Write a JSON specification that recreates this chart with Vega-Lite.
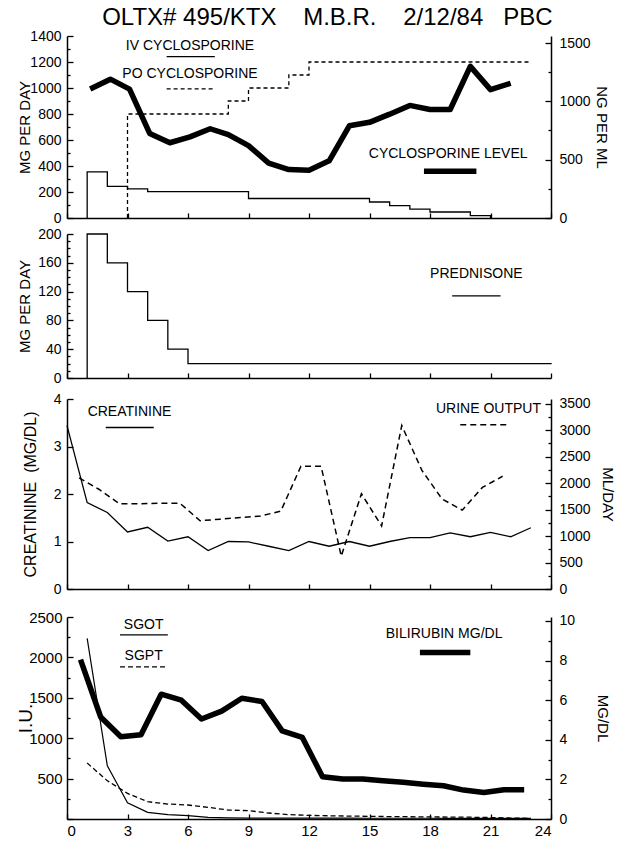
{
 "$schema": "https://vega.github.io/schema/vega-lite/v6.json",
 "padding": {"left": 16, "top": 6, "right": 5, "bottom": 3},
 "title": {"text": "OLTX#\u00a0495/KTX\u00a0\u00a0\u00a0\u00a0M.B.R.\u00a0\u00a0\u00a0\u00a02/12/84\u00a0\u00a0\u00a0PBC", "fontSize": 24, "font": "Liberation Sans", "fontWeight": "normal", "color": "#000", "anchor": "middle", "offset": -1, "dx": 12},
 "spacing": 0,
 "datasets": {
  "iv": [{"seq":1,"day":1,"mg":0},{"seq":2,"day":1,"mg":355},{"seq":3,"day":2,"mg":244},{"seq":4,"day":3,"mg":224},{"seq":5,"day":4,"mg":203},{"seq":6,"day":9,"mg":150},{"seq":7,"day":15,"mg":123},{"seq":8,"day":16,"mg":95},{"seq":9,"day":17,"mg":69},{"seq":10,"day":18,"mg":46},{"seq":11,"day":20,"mg":18},{"seq":12,"day":21,"mg":0}],
  "po": [{"seq":1,"day":3,"mg":0},{"seq":2,"day":3,"mg":800},{"seq":3,"day":8,"mg":900},{"seq":4,"day":9,"mg":1000},{"seq":5,"day":11,"mg":1100},{"seq":6,"day":12,"mg":1200},{"seq":7,"day":23,"mg":1200}],
  "level": [{"day":1.15,"ng":1105},{"day":2.15,"ng":1190},{"day":3.1,"ng":1105},{"day":4.1,"ng":725},{"day":5.1,"ng":645},{"day":6.1,"ng":695},{"day":7.1,"ng":765},{"day":8.0,"ng":715},{"day":9.0,"ng":620},{"day":10.0,"ng":470},{"day":11.0,"ng":415},{"day":12.0,"ng":410},{"day":13.0,"ng":490},{"day":14.0,"ng":790},{"day":15.0,"ng":820},{"day":16.0,"ng":890},{"day":17.0,"ng":965},{"day":18.0,"ng":930},{"day":19.0,"ng":930},{"day":20.0,"ng":1300},{"day":21.0,"ng":1100},{"day":22.0,"ng":1155}],
  "pred": [{"seq":1,"day":1,"mg":0},{"seq":2,"day":1,"mg":200},{"seq":3,"day":2,"mg":160},{"seq":4,"day":3,"mg":120},{"seq":5,"day":4,"mg":80},{"seq":6,"day":5,"mg":40},{"seq":7,"day":6,"mg":20},{"seq":8,"day":24,"mg":19}],
  "creat": [{"day":0,"v":3.44},{"day":1,"v":1.82},{"day":2,"v":1.61},{"day":3,"v":1.2},{"day":4,"v":1.3},{"day":5,"v":1.01},{"day":6,"v":1.1},{"day":7,"v":0.81},{"day":8,"v":1.0},{"day":9,"v":0.99},{"day":10,"v":0.9},{"day":11,"v":0.81},{"day":12,"v":1.0},{"day":13,"v":0.9},{"day":14,"v":1.0},{"day":15,"v":0.9},{"day":16,"v":1.0},{"day":17,"v":1.08},{"day":18,"v":1.08},{"day":19,"v":1.18},{"day":20,"v":1.1},{"day":21,"v":1.19},{"day":22,"v":1.1},{"day":23,"v":1.29}],
  "urine": [{"day":0.6,"ml":2100},{"day":1.6,"ml":1880},{"day":2.6,"ml":1610},{"day":3.6,"ml":1610},{"day":4.6,"ml":1620},{"day":5.6,"ml":1620},{"day":6.6,"ml":1290},{"day":7.6,"ml":1320},{"day":8.6,"ml":1350},{"day":9.6,"ml":1380},{"day":10.6,"ml":1470},{"day":11.6,"ml":2320},{"day":12.6,"ml":2320},{"day":13.6,"ml":620},{"day":14.6,"ml":1800},{"day":15.6,"ml":1190},{"day":16.6,"ml":3090},{"day":17.6,"ml":2240},{"day":18.6,"ml":1700},{"day":19.6,"ml":1490},{"day":20.6,"ml":1920},{"day":21.6,"ml":2130}],
  "sgot": [{"day":1,"iu":2236},{"day":2,"iu":659},{"day":3,"iu":200},{"day":4,"iu":82},{"day":5,"iu":54},{"day":6,"iu":41},{"day":7,"iu":21},{"day":8,"iu":15},{"day":9,"iu":12},{"day":10,"iu":10},{"day":11,"iu":10},{"day":12,"iu":10},{"day":13,"iu":10},{"day":14,"iu":10},{"day":15,"iu":9},{"day":16,"iu":9},{"day":17,"iu":9},{"day":18,"iu":9},{"day":19,"iu":8},{"day":20,"iu":8},{"day":21,"iu":8},{"day":22,"iu":8},{"day":23,"iu":8}],
  "sgpt": [{"day":1,"iu":692},{"day":2,"iu":474},{"day":3,"iu":317},{"day":4,"iu":214},{"day":5,"iu":185},{"day":6,"iu":173},{"day":7,"iu":144},{"day":8,"iu":111},{"day":9,"iu":103},{"day":10,"iu":74},{"day":11,"iu":54},{"day":12,"iu":45},{"day":13,"iu":40},{"day":14,"iu":36},{"day":15,"iu":33},{"day":16,"iu":30},{"day":17,"iu":28},{"day":18,"iu":26},{"day":19,"iu":24},{"day":20,"iu":22},{"day":21,"iu":18},{"day":22,"iu":12},{"day":23,"iu":8}],
  "bili": [{"day":0.67,"v":8.05},{"day":1.67,"v":5.15},{"day":2.67,"v":4.15},{"day":3.67,"v":4.25},{"day":4.67,"v":6.3},{"day":5.67,"v":6.0},{"day":6.67,"v":5.05},{"day":7.67,"v":5.45},{"day":8.67,"v":6.1},{"day":9.67,"v":5.93},{"day":10.67,"v":4.45},{"day":11.67,"v":4.12},{"day":12.67,"v":2.13},{"day":13.67,"v":2.02},{"day":14.67,"v":2.02},{"day":15.67,"v":1.93},{"day":16.67,"v":1.85},{"day":17.67,"v":1.76},{"day":18.67,"v":1.68},{"day":19.67,"v":1.46},{"day":20.67,"v":1.34},{"day":21.67,"v":1.48},{"day":22.67,"v":1.48}]
 },
 "vconcat": [
  {
   "width": 484, "height": 182,
   "resolve": {"scale": {"y": "independent"}},
   "layer": [
    {"data": {"name": "iv"}, "mark": {"type": "line", "interpolate": "step-after", "strokeWidth": 1.3, "color": "#000"},
     "encoding": {
      "x": {"field": "day", "type": "quantitative", "scale": {"domain": [0, 24], "nice": false}, "axis": {"values": [0,3,6,9,12,15,18,21,24], "labels": false, "tickSize": -5, "title": "\u00a0", "titleFontSize": 8, "titlePadding": 0}},
      "y": {"field": "mg", "type": "quantitative", "scale": {"domain": [0, 1400], "nice": false}, "axis": {"orient": "left", "title": "MG PER DAY", "values": [0,100,200,300,400,500,600,700,800,900,1000,1100,1200,1300,1400], "format": "d", "labelExpr": "datum.value % 200 === 0 ? datum.label : ''", "tickSize": {"condition": {"test": "datum.value % 200 === 0", "value": -6}, "value": -3}, "labelPadding": 12, "titlePadding": -3}},
      "order": {"field": "seq", "type": "quantitative"}}},
    {"data": {"name": "po"}, "mark": {"type": "line", "interpolate": "step-after", "strokeWidth": 1.3, "strokeDash": [4, 3], "color": "#000"},
     "encoding": {
      "x": {"field": "day", "type": "quantitative", "scale": {"domain": [0, 24], "nice": false}},
      "y": {"field": "mg", "type": "quantitative", "scale": {"domain": [0, 1400], "nice": false}, "axis": null},
      "order": {"field": "seq", "type": "quantitative"}}},
    {"data": {"name": "level"}, "mark": {"type": "line", "strokeWidth": 5.5, "color": "#000", "strokeJoin": "round"},
     "encoding": {
      "x": {"field": "day", "type": "quantitative", "scale": {"domain": [0, 24], "nice": false}},
      "y": {"field": "ng", "type": "quantitative", "scale": {"domain": [0, 1560], "nice": false}, "axis": {"orient": "right", "title": "NG PER ML", "values": [0,250,500,750,1000,1250,1500], "format": "d", "labelExpr": "datum.value % 500 === 0 ? datum.label : ''", "tickSize": {"condition": {"test": "datum.value % 500 === 0", "value": -6}, "value": -3}, "labelPadding": 14, "titlePadding": 3}}}},
    {"data": {"values": [{}]}, "mark": {"type": "text", "text": "IV CYCLOSPORINE", "fontSize": 14, "baseline": "middle", "color": "#000"},
     "encoding": {"x": {"datum": 6.1, "type": "quantitative"}, "y": {"datum": 1323, "type": "quantitative", "scale": {"domain": [0, 1400]}, "axis": null}}},
    {"data": {"values": [{}]}, "mark": {"type": "rule", "strokeWidth": 1.3, "color": "#000"},
     "encoding": {"x": {"datum": 4.94, "type": "quantitative"}, "x2": {"datum": 7.33}, "y": {"datum": 1241, "type": "quantitative", "scale": {"domain": [0, 1400]}, "axis": null}}},
    {"data": {"values": [{}]}, "mark": {"type": "text", "text": "PO CYCLOSPORINE", "fontSize": 14, "baseline": "middle", "color": "#000"},
     "encoding": {"x": {"datum": 6.1, "type": "quantitative"}, "y": {"datum": 1105, "type": "quantitative", "scale": {"domain": [0, 1400]}, "axis": null}}},
    {"data": {"values": [{}]}, "mark": {"type": "rule", "strokeWidth": 1.3, "strokeDash": [4, 3], "color": "#000"},
     "encoding": {"x": {"datum": 4.94, "type": "quantitative"}, "x2": {"datum": 7.23}, "y": {"datum": 994, "type": "quantitative", "scale": {"domain": [0, 1400]}, "axis": null}}},
    {"data": {"values": [{}]}, "mark": {"type": "text", "text": "CYCLOSPORINE LEVEL", "fontSize": 14, "baseline": "middle", "color": "#000"},
     "encoding": {"x": {"datum": 18.9, "type": "quantitative"}, "y": {"datum": 496, "type": "quantitative", "scale": {"domain": [0, 1400]}, "axis": null}}},
    {"data": {"values": [{}]}, "mark": {"type": "rule", "strokeWidth": 5.5, "color": "#000"},
     "encoding": {"x": {"datum": 17.7, "type": "quantitative"}, "x2": {"datum": 20.3}, "y": {"datum": 360, "type": "quantitative", "scale": {"domain": [0, 1400]}, "axis": null}}}
   ]
  },
  {
   "width": 484, "height": 144,
   "resolve": {"scale": {"y": "independent"}},
   "layer": [
    {"data": {"name": "pred"}, "mark": {"type": "line", "interpolate": "step-after", "strokeWidth": 1.3, "color": "#000"},
     "encoding": {
      "x": {"field": "day", "type": "quantitative", "scale": {"domain": [0, 24], "nice": false}, "axis": {"values": [0,3,6,9,12,15,18,21,24], "labels": false, "tickSize": -5, "title": "\u00a0", "titleFontSize": 12, "titlePadding": 2}},
      "y": {"field": "mg", "type": "quantitative", "scale": {"domain": [0, 200], "nice": false}, "axis": {"orient": "left", "title": "MG PER DAY", "values": [0,10,20,30,40,50,60,70,80,90,100,110,120,130,140,150,160,170,180,190,200], "format": "d", "labelExpr": "datum.value % 40 === 0 ? datum.label : ''", "tickSize": {"condition": {"test": "datum.value % 40 === 0", "value": -6}, "value": -3}, "labelPadding": 12, "titlePadding": 5}},
      "order": {"field": "seq", "type": "quantitative"}}},
    {"data": {"values": [{}]}, "mark": {"type": "text", "text": "PREDNISONE", "fontSize": 14, "baseline": "middle", "color": "#000"},
     "encoding": {"x": {"datum": 20.3, "type": "quantitative"}, "y": {"datum": 144, "type": "quantitative", "scale": {"domain": [0, 200]}, "axis": null}}},
    {"data": {"values": [{}]}, "mark": {"type": "rule", "strokeWidth": 1.3, "color": "#000"},
     "encoding": {"x": {"datum": 19.1, "type": "quantitative"}, "x2": {"datum": 21.5}, "y": {"datum": 114, "type": "quantitative", "scale": {"domain": [0, 200]}, "axis": null}}}
   ]
  },
  {
   "width": 484, "height": 190,
   "resolve": {"scale": {"y": "independent"}},
   "layer": [
    {"data": {"name": "creat"}, "mark": {"type": "line", "strokeWidth": 1.3, "color": "#000"},
     "encoding": {
      "x": {"field": "day", "type": "quantitative", "scale": {"domain": [0, 24], "nice": false}, "axis": {"values": [0,3,6,9,12,15,18,21,24], "labels": false, "tickSize": -5, "title": "\u00a0", "titleFontSize": 12, "titlePadding": 9}},
      "y": {"field": "v", "type": "quantitative", "scale": {"domain": [0, 4], "nice": false}, "axis": {"orient": "left", "title": "CREATININE\u00a0\u00a0(MG/DL)", "titleFontSize": 16, "values": [0,0.5,1,1.5,2,2.5,3,3.5,4], "format": "d", "labelExpr": "datum.value % 1 === 0 ? datum.label : ''", "tickSize": {"condition": {"test": "datum.value % 1 === 0", "value": -6}, "value": -3}, "labelPadding": 12, "titlePadding": 15}}}},
    {"data": {"name": "urine"}, "mark": {"type": "line", "strokeWidth": 1.5, "strokeDash": [6, 4], "color": "#000"},
     "encoding": {
      "x": {"field": "day", "type": "quantitative", "scale": {"domain": [0, 24], "nice": false}},
      "y": {"field": "ml", "type": "quantitative", "scale": {"domain": [0, 3590], "nice": false}, "axis": {"orient": "right", "title": "ML/DAY", "values": [0,250,500,750,1000,1250,1500,1750,2000,2250,2500,2750,3000,3250,3500], "format": "d", "labelExpr": "datum.value % 500 === 0 ? datum.label : ''", "tickSize": {"condition": {"test": "datum.value % 500 === 0", "value": -6}, "value": -3}, "labelPadding": 14, "titlePadding": 9}}}},
    {"data": {"values": [{}]}, "mark": {"type": "text", "text": "CREATININE", "fontSize": 14, "baseline": "middle", "color": "#000"},
     "encoding": {"x": {"datum": 3.1, "type": "quantitative"}, "y": {"datum": 3.72, "type": "quantitative", "scale": {"domain": [0, 4]}, "axis": null}}},
    {"data": {"values": [{}]}, "mark": {"type": "rule", "strokeWidth": 1.3, "color": "#000"},
     "encoding": {"x": {"datum": 1.92, "type": "quantitative"}, "x2": {"datum": 4.3}, "y": {"datum": 3.4, "type": "quantitative", "scale": {"domain": [0, 4]}, "axis": null}}},
    {"data": {"values": [{}]}, "mark": {"type": "text", "text": "URINE OUTPUT", "fontSize": 14, "baseline": "middle", "color": "#000"},
     "encoding": {"x": {"datum": 20.9, "type": "quantitative"}, "y": {"datum": 3.79, "type": "quantitative", "scale": {"domain": [0, 4]}, "axis": null}}},
    {"data": {"values": [{}]}, "mark": {"type": "rule", "strokeWidth": 1.5, "strokeDash": [6, 4], "color": "#000"},
     "encoding": {"x": {"datum": 19.5, "type": "quantitative"}, "x2": {"datum": 21.8}, "y": {"datum": 3.46, "type": "quantitative", "scale": {"domain": [0, 4]}, "axis": null}}}
   ]
  },
  {
   "width": 484, "height": 202,
   "resolve": {"scale": {"y": "independent"}},
   "layer": [
    {"data": {"name": "sgot"}, "mark": {"type": "line", "strokeWidth": 1.2, "color": "#000"},
     "encoding": {
      "x": {"field": "day", "type": "quantitative", "scale": {"domain": [0, 24], "nice": false}, "axis": {"values": [0,3,6,9,12,15,18,21,24], "format": "d", "tickSize": -5, "labelPadding": 9, "labelFontSize": 15, "title": null}},
      "y": {"field": "iu", "type": "quantitative", "scale": {"domain": [0, 2500], "nice": false}, "axis": {"orient": "left", "title": "I.U.", "titleFontSize": 19, "labelFontSize": 15, "values": [0,250,500,750,1000,1250,1500,1750,2000,2250,2500], "format": "d", "labelExpr": "datum.value % 500 === 0 && datum.value > 0 ? datum.label : ''", "tickSize": {"condition": {"test": "datum.value % 500 === 0", "value": -6}, "value": -3}, "labelPadding": 11, "titlePadding": -7}}}},
    {"data": {"name": "sgpt"}, "mark": {"type": "line", "strokeWidth": 1.3, "strokeDash": [5, 3], "color": "#000"},
     "encoding": {
      "x": {"field": "day", "type": "quantitative", "scale": {"domain": [0, 24], "nice": false}},
      "y": {"field": "iu", "type": "quantitative", "scale": {"domain": [0, 2500], "nice": false}, "axis": null}}},
    {"data": {"name": "bili"}, "mark": {"type": "line", "strokeWidth": 5.5, "color": "#000", "strokeJoin": "round"},
     "encoding": {
      "x": {"field": "day", "type": "quantitative", "scale": {"domain": [0, 24], "nice": false}},
      "y": {"field": "v", "type": "quantitative", "scale": {"domain": [0, 10.2], "nice": false}, "axis": {"orient": "right", "title": "MG/DL", "values": [0,1,2,3,4,5,6,7,8,9,10], "format": "d", "labelExpr": "datum.value % 2 === 0 ? datum.label : ''", "tickSize": {"condition": {"test": "datum.value % 2 === 0", "value": -6}, "value": -3}, "labelPadding": 14, "titlePadding": 20}}}},
    {"data": {"values": [{}]}, "mark": {"type": "text", "text": "SGOT", "fontSize": 14, "baseline": "middle", "color": "#000"},
     "encoding": {"x": {"datum": 3.8, "type": "quantitative"}, "y": {"datum": 2400, "type": "quantitative", "scale": {"domain": [0, 2500]}, "axis": null}}},
    {"data": {"values": [{}]}, "mark": {"type": "rule", "strokeWidth": 1.3, "color": "#000"},
     "encoding": {"x": {"datum": 2.63, "type": "quantitative"}, "x2": {"datum": 5.0}, "y": {"datum": 2278, "type": "quantitative", "scale": {"domain": [0, 2500]}, "axis": null}}},
    {"data": {"values": [{}]}, "mark": {"type": "text", "text": "SGPT", "fontSize": 14, "baseline": "middle", "color": "#000"},
     "encoding": {"x": {"datum": 3.8, "type": "quantitative"}, "y": {"datum": 2020, "type": "quantitative", "scale": {"domain": [0, 2500]}, "axis": null}}},
    {"data": {"values": [{}]}, "mark": {"type": "rule", "strokeWidth": 1.3, "strokeDash": [5, 3], "color": "#000"},
     "encoding": {"x": {"datum": 2.63, "type": "quantitative"}, "x2": {"datum": 4.9}, "y": {"datum": 1883, "type": "quantitative", "scale": {"domain": [0, 2500]}, "axis": null}}},
    {"data": {"values": [{}]}, "mark": {"type": "text", "text": "BILIRUBIN MG/DL", "fontSize": 14, "baseline": "middle", "color": "#000"},
     "encoding": {"x": {"datum": 18.7, "type": "quantitative"}, "y": {"datum": 2290, "type": "quantitative", "scale": {"domain": [0, 2500]}, "axis": null}}},
    {"data": {"values": [{}]}, "mark": {"type": "rule", "strokeWidth": 5.5, "color": "#000"},
     "encoding": {"x": {"datum": 17.5, "type": "quantitative"}, "x2": {"datum": 20.0}, "y": {"datum": 2060, "type": "quantitative", "scale": {"domain": [0, 2500]}, "axis": null}}}
   ]
  }
 ],
 "config": {
  "view": {"stroke": null},
  "font": "Liberation Sans",
  "axis": {"grid": false, "domainColor": "#000", "domainWidth": 1.5, "tickColor": "#000", "tickWidth": 1.3, "labelColor": "#000", "labelFont": "Liberation Sans", "labelFontSize": 14, "titleColor": "#000", "titleFont": "Liberation Sans", "titleFontSize": 15, "titleFontWeight": "normal"}
 }
}
